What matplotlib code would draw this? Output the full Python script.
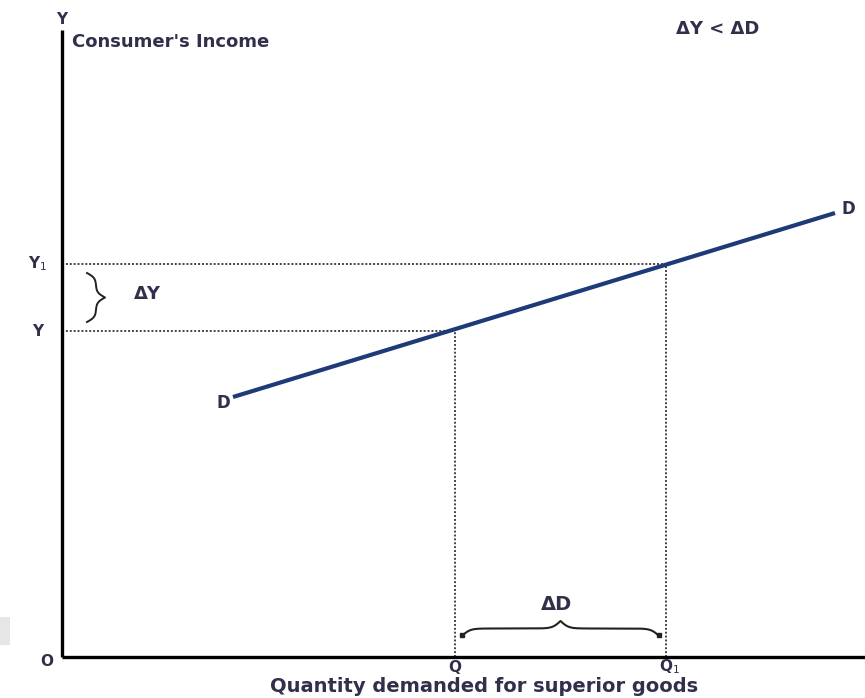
import numpy as np
import matplotlib
matplotlib.use("Agg")
import matplotlib.pyplot as plt

# ---- data (px-like units, origin at the axes corner) ----
demand_x = [171, 773]          # D line end points (quantity)
demand_y = [260, 444]          # D line end points (income)
q_values = [393, 604]          # Q, Q1
income_values = [326, 393]     # Y, Y1
q_labels = ["Q", "Q$_1$"]
income_labels = ["Y", "Y$_1$"]

TXT = "#30304a"
LINE = "#1f3a78"

fig = plt.figure(figsize=(8.65, 6.98), dpi=100)
ax = fig.add_axes([0, 0, 1, 1])
ax.set_xlim(-62, 803)
ax.set_ylim(-41, 657)
ax.axis("off")

# faint grey patch at the lower left edge (as in the scanned original)
ax.add_patch(plt.Rectangle((-62, 12), 10, 28, color="#e6e6e6", lw=0, zorder=0))

# axes
ax.plot([0, 0], [0, 627], color="black", lw=2.4, solid_capstyle="butt", zorder=3)
ax.plot([0, 803], [0, 0], color="black", lw=2.4, solid_capstyle="butt", zorder=3)

# dotted guide lines
for qx, iy in zip(q_values, income_values):
    ax.plot([0, qx], [iy, iy], color="#444444", lw=1.4, ls=(0, (1, 1)), zorder=2)
    ax.plot([qx, qx], [0, iy], color="#444444", lw=1.4, ls=(0, (1, 1)), zorder=2)

# demand line
ax.plot(demand_x, demand_y, color=LINE, lw=3.0, solid_capstyle="butt", zorder=4)


def brace_curve(length, depth, n=401, beta=0.35):
    s = np.linspace(0, length / 2, n // 2 + 1)
    half = 1 / (1 + np.exp(-beta * (s - s[0]))) + 1 / (1 + np.exp(-beta * (s - s[-1])))
    half = (half - half[0]) / (half[-1] - half[0])
    t = np.concatenate([s, length - s[-2::-1]])
    d = np.concatenate([half, half[-2::-1]]) * depth
    return t, d


# vertical brace (ΔY)
t, d = brace_curve(income_values[1] - income_values[0] - 18, 18, beta=0.4)
ax.plot(25 + d, income_values[0] + 9 + t, color="#222222", lw=1.4, zorder=3)

# horizontal brace (ΔD)
t, d = brace_curve(q_values[1] - q_values[0] - 14, 15, beta=0.25)
bx = q_values[0] + 7 + t
ax.plot(bx, 21 + d, color="#222222", lw=1.5, zorder=3)
ax.plot([bx[0], bx[-1]], [22, 22], ls="none", marker="s", ms=3.5, color="#222222", zorder=3)

font = dict(color=TXT, fontweight="bold", family="DejaVu Sans")

ax.text(0, 638, "Y", ha="center", va="center", fontsize=11, **font)
ax.text(10, 615, "Consumer's Income", ha="left", va="center", fontsize=13, **font)
ax.text(656, 628, "ΔY < ΔD", ha="center", va="center", fontsize=13, **font)
ax.text(-15, -4, "O", ha="center", va="center", fontsize=11, **font)
for lab, iy in zip(income_labels, income_values):
    ax.text(-24, iy, lab, ha="center", va="center", fontsize=11, **font)
for lab, qx in zip(q_labels, q_values):
    ax.text(qx + (3 if lab != "Q" else 0), -10, lab, ha="center", va="center", fontsize=11, **font)
ax.text(85, 363, "ΔY", ha="center", va="center", fontsize=13, **font)
ax.text((q_values[0] + q_values[1]) / 2 - 4, 53, "ΔD", ha="center", va="center", fontsize=14, **font)
ax.text(demand_x[0] - 10, demand_y[0] - 6, "D", ha="center", va="center", fontsize=12, **font)
ax.text(demand_x[1] + 13, demand_y[1] + 4, "D", ha="center", va="center", fontsize=12, **font)
ax.text(422, -30, "Quantity demanded for superior goods", ha="center", va="center",
        fontsize=14, **font)

fig.savefig("out.png", dpi=100)
